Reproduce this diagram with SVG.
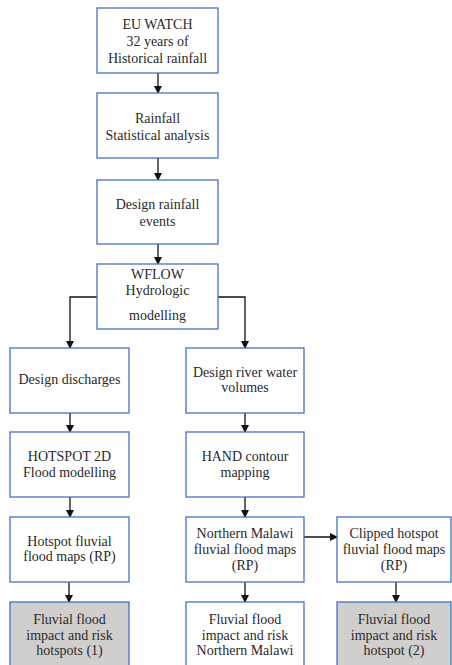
<svg xmlns="http://www.w3.org/2000/svg" width="452" height="665" viewBox="0 0 452 665">
<defs>
<marker id="ah" markerWidth="8" markerHeight="8" refX="7" refY="4" orient="auto" markerUnits="userSpaceOnUse">
<path d="M0,0 L8,4 L0,8 Z" fill="#111"/>
</marker>
<style>
.b{fill:#fff;stroke:#4472c4;stroke-width:1.3}
.g{fill:#d0cfcd;stroke:#4472c4;stroke-width:1.3}
.t{font-family:"Liberation Serif","Times New Roman",serif;font-size:14px;fill:#2a2a2a;text-anchor:middle}
.c{fill:none;stroke:#111;stroke-width:1.3}
</style>
</defs>
<rect width="452" height="665" fill="#fff"/>
<g id="connectors">
<line class="c" x1="158" y1="73" x2="158" y2="93" marker-end="url(#ah)"/>
<line class="c" x1="158" y1="158" x2="158" y2="180" marker-end="url(#ah)"/>
<line class="c" x1="158" y1="244" x2="158" y2="264" marker-end="url(#ah)"/>
<polyline class="c" points="97,297 70,297 70,348" marker-end="url(#ah)"/>
<polyline class="c" points="218,297 245,297 245,348" marker-end="url(#ah)"/>
<line class="c" x1="70" y1="413" x2="70" y2="432" marker-end="url(#ah)"/>
<line class="c" x1="245" y1="413" x2="245" y2="432" marker-end="url(#ah)"/>
<line class="c" x1="70" y1="497" x2="70" y2="517" marker-end="url(#ah)"/>
<line class="c" x1="245" y1="497" x2="245" y2="517" marker-end="url(#ah)"/>
<line class="c" x1="69" y1="582" x2="69" y2="602" marker-end="url(#ah)"/>
<line class="c" x1="245" y1="582" x2="245" y2="602" marker-end="url(#ah)"/>
<line class="c" x1="396" y1="582" x2="396" y2="602" marker-end="url(#ah)"/>
<line class="c" x1="304" y1="537" x2="337" y2="537" marker-end="url(#ah)"/>
</g>
<g id="n1"><rect class="b" x="97" y="8" width="121" height="65"/>
<text class="t" x="157.5" y="29">EU WATCH</text><text class="t" x="157.5" y="46">32 years of</text><text class="t" x="157.5" y="63">Historical rainfall</text></g>
<g id="n2"><rect class="b" x="97" y="93" width="121" height="65"/>
<text class="t" x="157.5" y="123">Rainfall</text><text class="t" x="157.5" y="140">Statistical analysis</text></g>
<g id="n3"><rect class="b" x="97" y="180" width="121" height="64"/>
<text class="t" x="157.5" y="209">Design rainfall</text><text class="t" x="157.5" y="226">events</text></g>
<g id="n4"><rect class="b" x="97" y="264" width="121" height="65"/>
<text class="t" x="157.5" y="279">WFLOW</text><text class="t" x="157.5" y="295">Hydrologic</text><text class="t" x="157.5" y="320">modelling</text></g>
<g id="n5"><rect class="b" x="10" y="348" width="119" height="65"/>
<text class="t" x="69.5" y="384">Design discharges</text></g>
<g id="n6"><rect class="b" x="186" y="348" width="118" height="65"/>
<text class="t" x="245" y="377">Design river water</text><text class="t" x="245" y="392">volumes</text></g>
<g id="n7"><rect class="b" x="10" y="432" width="119" height="65"/>
<text class="t" x="69.5" y="461">HOTSPOT 2D</text><text class="t" x="69.5" y="477">Flood modelling</text></g>
<g id="n8"><rect class="b" x="186" y="432" width="118" height="65"/>
<text class="t" x="245" y="461">HAND contour</text><text class="t" x="245" y="477">mapping</text></g>
<g id="n9"><rect class="b" x="10" y="517" width="119" height="65"/>
<text class="t" x="69.5" y="546">Hotspot fluvial</text><text class="t" x="69.5" y="561">flood maps (RP)</text></g>
<g id="n10"><rect class="b" x="186" y="517" width="118" height="65"/>
<text class="t" x="245" y="538">Northern Malawi</text><text class="t" x="245" y="554">fluvial flood maps</text><text class="t" x="245" y="570">(RP)</text></g>
<g id="n11"><rect class="b" x="337" y="517" width="114" height="65"/>
<text class="t" x="394" y="538">Clipped hotspot</text><text class="t" x="394" y="554">fluvial flood maps</text><text class="t" x="394" y="570">(RP)</text></g>
<g id="n12"><rect class="g" x="10" y="602" width="119" height="70"/>
<text class="t" x="69.5" y="624">Fluvial flood</text><text class="t" x="69.5" y="640">impact and risk</text><text class="t" x="69.5" y="655">hotspots (1)</text></g>
<g id="n13"><rect class="b" x="186" y="602" width="118" height="70"/>
<text class="t" x="245" y="624">Fluvial flood</text><text class="t" x="245" y="640">impact and risk</text><text class="t" x="245" y="655">Northern Malawi</text></g>
<g id="n14"><rect class="g" x="337" y="602" width="114" height="70"/>
<text class="t" x="394" y="624">Fluvial flood</text><text class="t" x="394" y="640">impact and risk</text><text class="t" x="394" y="655">hotspot (2)</text></g>
</svg>
